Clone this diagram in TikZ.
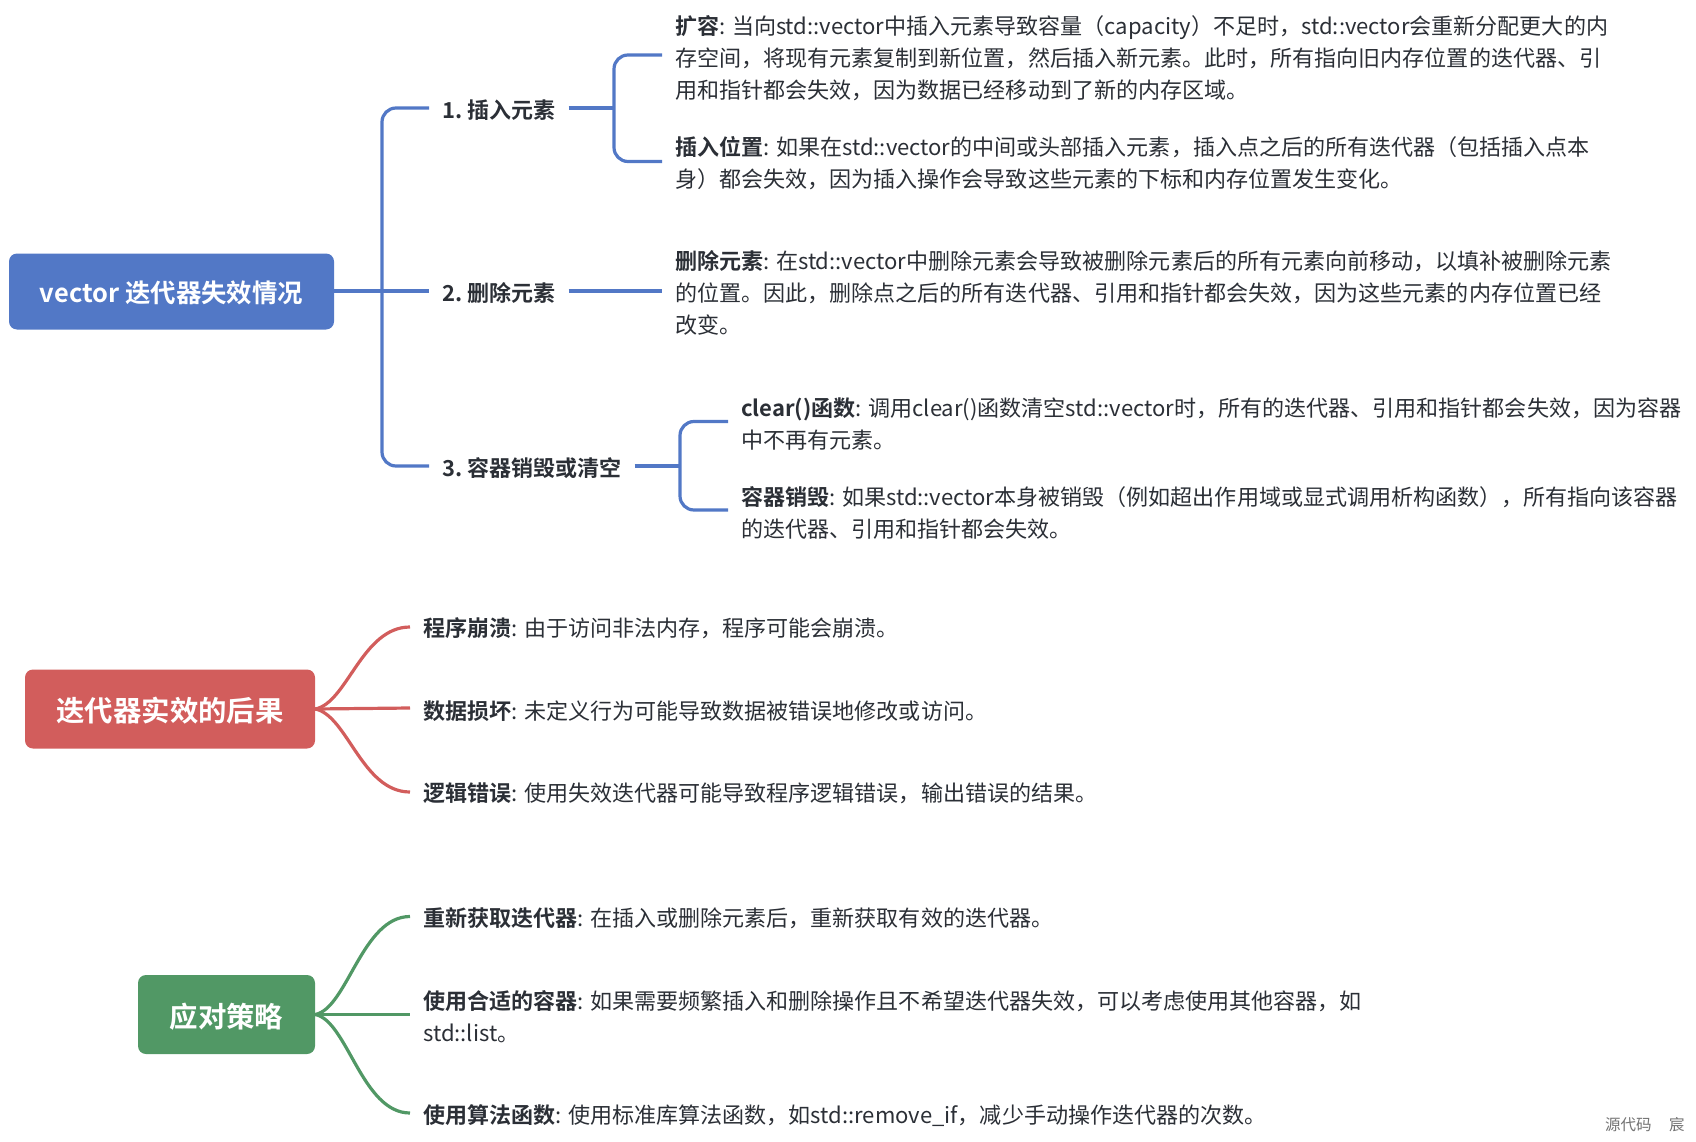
\documentclass[tikz,border=0pt]{standalone}
\usepackage{fontspec}
\setmainfont{Noto Sans CJK SC}[BoldFont={Noto Sans CJK SC Bold}]
\definecolor{cblue}{HTML}{5278C6}
\definecolor{cred}{HTML}{D25D5C}
\definecolor{cgreen}{HTML}{519865}
\definecolor{ink}{HTML}{2B2F36}
\tikzset{
  rootbox/.style={rounded corners=8pt,minimum height=76pt,inner sep=0pt,text=white,text depth=0pt,text height=25.2pt,font=\bfseries\fontsize{28.4}{32}\selectfont},
  midlabel/.style={anchor=west,inner xsep=13pt,inner ysep=0pt,text=ink,font=\bfseries\fontsize{22}{32}\selectfont},
  bodytext/.style={anchor=west,inner xsep=13pt,inner ysep=0pt,align=left,text=ink,font=\fontsize{22.05}{32}\selectfont},
  wmark/.style={anchor=west,inner sep=0pt,text=black!55,font=\fontsize{15.5}{16}\selectfont},
  wire/.style={line width=3.2pt,line cap=butt},
  bluewire/.style={wire,draw=cblue,rounded corners=14pt},
  redwire/.style={wire,draw=cred},
  greenwire/.style={wire,draw=cgreen},
}
\begin{document}
\begin{tikzpicture}[x=1pt,y=-1pt]
\useasboundingbox (0,0) rectangle (1696,1142);
% roots
\node[rootbox,fill=cblue,minimum width=325pt,text height=22.8pt,font=\bfseries\fontsize{25.4}{32}\selectfont] (root) at (171.5,291.5) {vector 迭代器失效情况};
\node[rootbox,fill=cred,minimum width=290pt,minimum height=79pt] (redroot) at (170,709) {迭代器实效的后果};
\node[rootbox,fill=cgreen,minimum width=177pt,minimum height=79pt] (greenroot) at (226.5,1014.5) {应对策略};
% mid labels
\node[midlabel] (l1) at (429,110) {1.\hspace{5pt}插入元素};
\node[midlabel] (l2) at (429,293) {2.\hspace{5pt}删除元素};
\node[midlabel] (l3) at (429,468) {3.\hspace{5pt}容器销毁或清空};
% bodies
\node[bodytext] (a1) at (662,58) {\textbf{扩容}: 当向std::vector中插入元素导致容量（capacity）不足时，std::vector会重新分配更大的内\\存空间，将现有元素复制到新位置，然后插入新元素。此时，所有指向旧内存位置的迭代器、引\\用和指针都会失效，因为数据已经移动到了新的内存区域。};
\node[bodytext] (a2) at (662,163) {\textbf{插入位置}: 如果在std::vector的中间或头部插入元素，插入点之后的所有迭代器（包括插入点本\\身）都会失效，因为插入操作会导致这些元素的下标和内存位置发生变化。};
\node[bodytext] (b1) at (662,293) {\textbf{删除元素}: 在std::vector中删除元素会导致被删除元素后的所有元素向前移动，以填补被删除元素\\的位置。因此，删除点之后的所有迭代器、引用和指针都会失效，因为这些元素的内存位置已经\\改变。};
\node[bodytext] (c1) at (728,424) {\textbf{clear()函数}: 调用clear()函数清空std::vector时，所有的迭代器、引用和指针都会失效，因为容器\\中不再有元素。};
\node[bodytext] (c2) at (728,512.5) {\textbf{容器销毁}: 如果std::vector本身被销毁（例如超出作用域或显式调用析构函数），所有指向该容器\\的迭代器、引用和指针都会失效。};
\node[bodytext] (r1) at (410,628) {\textbf{程序崩溃}: 由于访问非法内存，程序可能会崩溃。};
\node[bodytext] (r2) at (410,711) {\textbf{数据损坏}: 未定义行为可能导致数据被错误地修改或访问。};
\node[bodytext] (r3) at (410,793) {\textbf{逻辑错误}: 使用失效迭代器可能导致程序逻辑错误，输出错误的结果。};
\node[bodytext] (g1) at (410,918) {\textbf{重新获取迭代器}: 在插入或删除元素后，重新获取有效的迭代器。};
\node[bodytext] (g2) at (410,1016.5) {\textbf{使用合适的容器}: 如果需要频繁插入和删除操作且不希望迭代器失效，可以考虑使用其他容器，如\\std::list。};
\node[bodytext] (g3) at (410,1116) {\textbf{使用算法函数}: 使用标准库算法函数，如std::remove\_if，减少手动操作迭代器的次数。};
\node[wmark] (wm1) at (1605,1125) {源代码};
\node[wmark] (wm2) at (1669,1125) {宸};
% connector points
\coordinate (trunk) at (382,291);
\coordinate (j1) at (614,108);
\coordinate (j3) at (680,466);
\coordinate (ea1) at ([yshift=3pt]a1.west);
\coordinate (ea2) at ([yshift=1.5pt]a2.west);
\coordinate (ec1) at ([yshift=2.5pt]c1.west);
\coordinate (ec2) at ([yshift=2.5pt]c2.west);
\coordinate (er1) at ([yshift=1pt]r1.west);
\coordinate (er2) at ([yshift=3pt]r2.west);
\coordinate (er3) at ([yshift=1pt]r3.west);
\coordinate (eg1) at ([yshift=1.5pt]g1.west);
\coordinate (eg2) at ([yshift=2pt]g2.west);
\coordinate (eg3) at ([yshift=3pt]g3.west);
% blue connectors
\draw[bluewire] (l1.west |- j1) -- (trunk |- j1) -- (trunk |- j3) -- (l3.west |- j3);
\draw[wire,draw=cblue] (root.east |- trunk) -- (l2.west |- trunk);
\draw[wire,draw=cblue] (l1.east |- j1) -- (j1);
\draw[wire,draw=cblue] (l2.east |- trunk) -- (b1.west |- trunk);
\draw[wire,draw=cblue] (l3.east |- j3) -- (j3);
\draw[bluewire] (ea1) -- (j1 |- ea1) -- (j1 |- ea2) -- (ea2);
\draw[bluewire] (ec1) -- (j3 |- ec1) -- (j3 |- ec2) -- (ec2);
% red connectors
\draw[redwire] (redroot.east) .. controls +(32,-6) and +(-48,0) .. (er1);
\draw[redwire] (redroot.east) -- (er2);
\draw[redwire] (redroot.east) .. controls +(32,6) and +(-48,0) .. (er3);
% green connectors
\draw[greenwire] (greenroot.east) .. controls +(32,-6) and +(-48,0) .. (eg1);
\draw[greenwire] (greenroot.east) -- (eg2);
\draw[greenwire] (greenroot.east) .. controls +(32,6) and +(-48,0) .. (eg3);
\end{tikzpicture}
\end{document}
